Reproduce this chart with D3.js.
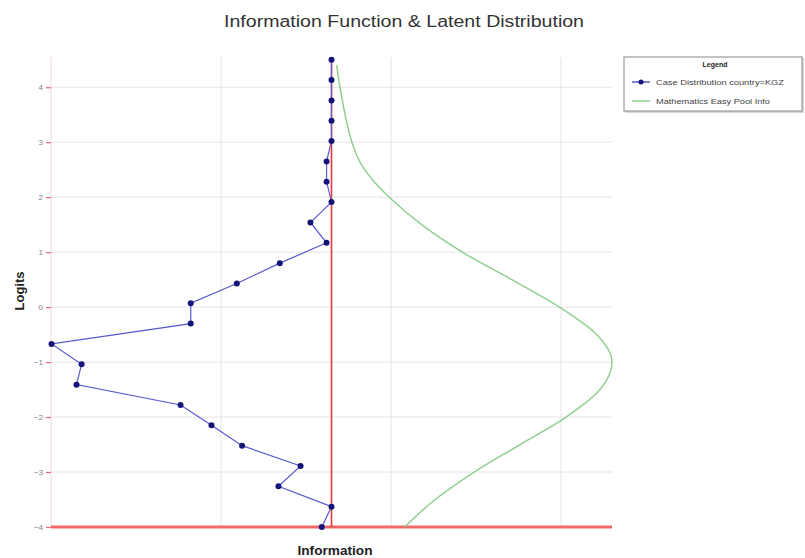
<!DOCTYPE html>
<html>
<head>
<meta charset="utf-8">
<script src="https://cdn.jsdelivr.net/npm/d3@7"></script>
<style>
  body { margin: 0; background: #fff; }
  svg { font-family: "Liberation Sans", Arial, sans-serif; }
</style>
</head>
<body>
<svg id="chart" width="805" height="558"></svg>
<script>
// logits of the case distribution points (top to bottom)
const caseLogits = [4.5, 4.13, 3.76, 3.39, 3.02, 2.65, 2.28, 1.91, 1.54, 1.17, 0.8, 0.43,
    0.07, -0.3, -0.67, -1.04, -1.41, -1.78, -2.15, -2.52, -2.89, -3.26, -3.63, -4.0];
// percent of cases at each logit
const casePct = [0, 0, 0, 0, 0, 0.29, 0.29, 0, 1.24, 0.29, 3.04, 5.57,
    8.28, 8.28, 16.47, 14.7, 15.0, 8.88, 7.06, 5.26, 1.82, 3.12, 0, 0.57];

// pool information curve
const infoLogits = [-4, -3.5, -3, -2.5, -2, -1.5, -1, -0.5, 0, 0.5, 1, 1.5, 2, 2.25, 2.5, 2.75, 3, 3.5, 4, 4.4];
const infoValues = [4.3, 6.1, 8.4, 11.1, 13.8, 15.8, 16.5, 15.6, 13.4, 10.6, 7.7, 5.3, 3.4, 2.6, 1.95, 1.5, 1.2, 0.8, 0.5, 0.3];

const yTicks = [4, 3, 2, 1, 0, -1, -2, -3, -4];
const xGrid = [-6.5, 3.5, 13.5];

const legendItems = [
    { label: "Case Distribution country=KGZ", color: "#5a5ad0", dot: true, len: 128 },
    { label: "Mathematics Easy Pool Info", color: "#8fd08f", dot: false, len: 114 }
];

const svg = d3.select("#chart");
const plot = { left: 51, right: 612, top: 57, bottom: 527 };

let x = d3.scaleLinear()
    .domain([-16.5, 16.5])
    .range([plot.left, plot.right]);

let y = d3.scaleLinear()
    .domain([-4, 4.55])
    .range([plot.bottom, plot.top]);

// title
svg.append("text")
    .attr("x", 404).attr("y", 27)
    .attr("text-anchor", "middle")
    .attr("font-size", 16)
    .attr("fill", "#333")
    .attr("textLength", 360)
    .attr("lengthAdjust", "spacingAndGlyphs")
    .text("Information Function & Latent Distribution");

// grid
svg.append("g")
    .selectAll("line")
    .data(yTicks)
    .enter().append("line")
    .attr("x1", plot.left).attr("x2", plot.right)
    .attr("y1", d => y(d)).attr("y2", d => y(d))
    .attr("stroke", "#e4e4e4")
    .attr("stroke-width", 1);

svg.append("g")
    .selectAll("line")
    .data(xGrid)
    .enter().append("line")
    .attr("x1", d => x(d)).attr("x2", d => x(d))
    .attr("y1", plot.top).attr("y2", plot.bottom)
    .attr("stroke", "#e4e4e4")
    .attr("stroke-width", 1);

// y axis
let yAxis = d3.axisLeft(y)
    .tickValues(yTicks)
    .tickSize(5)
    .tickPadding(3)
    .tickFormat(d3.format("d"));

let ax = svg.append("g")
    .attr("transform", `translate(${plot.left},0)`)
    .call(yAxis);
ax.select(".domain").attr("stroke", "#f3d6dc").attr("stroke-width", 1)
    .attr("d", `M0,${plot.top}V${plot.bottom}`);
ax.selectAll(".tick line").attr("stroke", "#ee6677").attr("stroke-width", 1.2);
ax.selectAll(".tick text").attr("fill", "#8a7a80").attr("font-size", 8);

// axis titles
svg.append("text")
    .attr("transform", "translate(24,291) rotate(-90)")
    .attr("text-anchor", "middle")
    .attr("font-size", 13)
    .attr("font-weight", "bold")
    .attr("fill", "#222")
    .text("Logits");

svg.append("text")
    .attr("x", 335).attr("y", 555)
    .attr("text-anchor", "middle")
    .attr("font-size", 12)
    .attr("font-weight", "bold")
    .attr("fill", "#222")
    .attr("textLength", 75)
    .attr("lengthAdjust", "spacingAndGlyphs")
    .text("Information");

// baselines
svg.append("line")
    .attr("x1", plot.left).attr("x2", plot.right)
    .attr("y1", y(-4)).attr("y2", y(-4))
    .attr("stroke", "#f26868")
    .attr("stroke-width", 3);

svg.append("line")
    .attr("x1", x(0)).attr("x2", x(0))
    .attr("y1", y(4.5)).attr("y2", y(-4))
    .attr("stroke", "#e23a3a")
    .attr("stroke-width", 1.6);

// information curve
let infoLine = d3.line()
    .x((d, i) => x(infoValues[i]))
    .y(d => y(d))
    .curve(d3.curveMonotoneY);

svg.append("path")
    .datum(infoLogits)
    .attr("d", infoLine)
    .attr("fill", "none")
    .attr("stroke", "#8fd08f")
    .attr("stroke-width", 1.5);

// case distribution
let caseLine = d3.line()
    .x((d, i) => x(-casePct[i]))
    .y(d => y(d));

svg.append("path")
    .datum(caseLogits)
    .attr("d", caseLine)
    .attr("fill", "none")
    .attr("stroke", "#5a5ad0")
    .attr("stroke-width", 1.2);

svg.append("g")
    .selectAll("circle")
    .data(caseLogits)
    .enter().append("circle")
    .attr("cx", (d, i) => x(-casePct[i]))
    .attr("cy", d => y(d))
    .attr("r", 3)
    .attr("fill", "#141478");

// legend
let lg = svg.append("g").attr("transform", "translate(624,57)");
lg.append("rect")
    .attr("x", 1).attr("y", 1)
    .attr("width", 179).attr("height", 55)
    .attr("fill", "#d8d8d8");
lg.append("rect")
    .attr("width", 178).attr("height", 54)
    .attr("fill", "#fff")
    .attr("stroke", "#888")
    .attr("stroke-width", 1);
lg.append("text")
    .attr("x", 91).attr("y", 10)
    .attr("text-anchor", "middle")
    .attr("font-size", 7)
    .attr("font-weight", "bold")
    .attr("fill", "#222")
    .text("Legend");

let item = lg.selectAll(".item")
    .data(legendItems)
    .enter().append("g")
    .attr("class", "item")
    .attr("transform", (d, i) => `translate(0,${25 + i * 19})`);
item.append("line")
    .attr("x1", 8).attr("x2", 26)
    .attr("stroke", d => d.color)
    .attr("stroke-width", 1.5);
item.filter(d => d.dot).append("circle")
    .attr("cx", 17).attr("r", 2.5)
    .attr("fill", "#141478");
item.append("text")
    .attr("x", 32).attr("y", 2.5)
    .attr("font-size", 7.5)
    .attr("fill", "#444")
    .attr("textLength", d => d.len)
    .attr("lengthAdjust", "spacingAndGlyphs")
    .text(d => d.label);
</script>
</body>
</html>
